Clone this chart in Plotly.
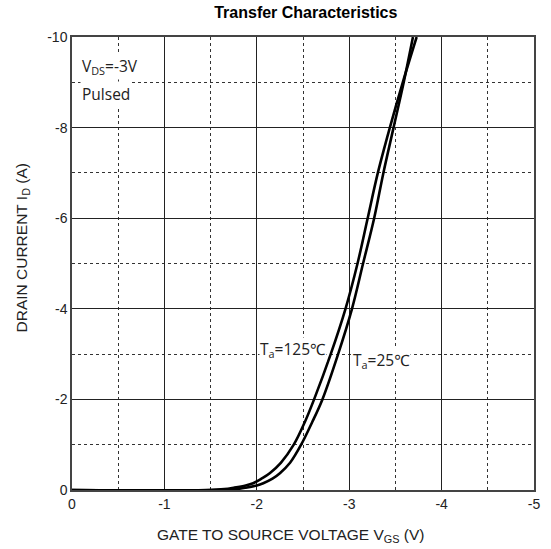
import plotly.graph_objects as go

# Data (Vgs in V, Id in A)
vgs_25 = [0, -1.58, -1.78, -1.88, -2.00, -2.07, -2.17, -2.25, -2.36, -2.48, -2.60, -2.71, -2.88, -3.03, -3.15, -3.27, -3.37, -3.48, -3.59, -3.69]
id_25 = [0, 0, -0.02, -0.05, -0.10, -0.15, -0.25, -0.37, -0.60, -1.0, -1.5, -2.0, -3.0, -4.0, -5.0, -6.0, -7.0, -8.0, -9.0, -10.0]

vgs_125 = [0, -1.45, -1.65, -1.75, -1.88, -1.96, -2.05, -2.14, -2.26, -2.40, -2.52, -2.62, -2.80, -2.96, -3.09, -3.20, -3.31, -3.44, -3.58, -3.73]
id_125 = [0, 0, -0.02, -0.05, -0.10, -0.15, -0.25, -0.37, -0.60, -1.0, -1.5, -2.0, -3.0, -4.0, -5.0, -6.0, -7.0, -8.0, -9.0, -10.0]

x_ticks = [0, -1, -2, -3, -4, -5]
y_ticks = [0, -2, -4, -6, -8, -10]

fig = go.Figure()
for xs, ys in [(vgs_25, id_25), (vgs_125, id_125)]:
    fig.add_trace(go.Scatter(x=xs, y=ys, mode="lines",
                             line=dict(color="black", width=2.6, shape="spline", smoothing=1.0),
                             showlegend=False, hoverinfo="skip", cliponaxis=True))

axis_common = dict(showline=True, linecolor="#444", linewidth=1.5, mirror=True,
                   showgrid=True, gridcolor="#222", gridwidth=1, zeroline=False,
                   ticks="", tickfont=dict(family="Liberation Sans, Arial", size=14, color="#222"))

fig.update_xaxes(range=[0, -5], tickvals=x_ticks, ticktext=[str(v) for v in x_ticks],
                 minor=dict(dtick=0.5, tick0=0, showgrid=True, gridcolor="#333", griddash="dot", gridwidth=1),
                 **axis_common)
fig.update_yaxes(range=[0, -10], tickvals=y_ticks, ticktext=[str(v) for v in y_ticks],
                 minor=dict(dtick=1, tick0=0, showgrid=True, gridcolor="#333", griddash="dot", gridwidth=1),
                 **axis_common)

title_font = dict(family="Liberation Sans, Arial", size=15.5, color="#222")
fig.add_annotation(x=0.5, y=0, xref="paper", yref="paper", xanchor="center", yanchor="middle",
                   yshift=-45, xshift=-13, showarrow=False, font=title_font,
                   text="GATE TO SOURCE VOLTAGE V<sub>GS</sub> (V)")
fig.add_annotation(x=0, y=0.5, xref="paper", yref="paper", xanchor="center", yanchor="middle",
                   xshift=-50, yshift=15, textangle=-90, showarrow=False, font=title_font,
                   text="DRAIN CURRENT I<sub>D</sub> (A)")

ann_font = dict(family="Open Sans, Noto Sans", size=15.5, color="#222")
fig.add_annotation(x=0, y=-9.34, xref="x", yref="y", xanchor="left", yanchor="middle",
                   text="V<sub>DS</sub>=-3V", showarrow=False, font=ann_font,
                   bgcolor="white", xshift=8, borderpad=1)
fig.add_annotation(x=0, y=-8.74, xref="x", yref="y", xanchor="left", yanchor="middle",
                   text="Pulsed", showarrow=False, font=ann_font,
                   bgcolor="white", xshift=8, borderpad=1)
fig.add_annotation(x=-2.02, y=-3.1, xref="x", yref="y", xanchor="left", yanchor="middle",
                   text="T<sub>a</sub>=125℃", showarrow=False, font=ann_font,
                   bgcolor="white", borderpad=0)
fig.add_annotation(x=-3.03, y=-2.85, xref="x", yref="y", xanchor="left", yanchor="middle",
                   text="T<sub>a</sub>=25℃", showarrow=False, font=ann_font,
                   bgcolor="white", borderpad=0)

fig.update_layout(
    width=551, height=549,
    margin=dict(l=72, r=11, t=37, b=59),
    paper_bgcolor="white", plot_bgcolor="white",
    title=dict(text="<b>Transfer Characteristics</b>", x=0.555, xanchor="center", y=0.977, yanchor="middle",
               font=dict(family="Liberation Sans, Arial", size=16, color="black")),
)

fig.write_html("out.html")
